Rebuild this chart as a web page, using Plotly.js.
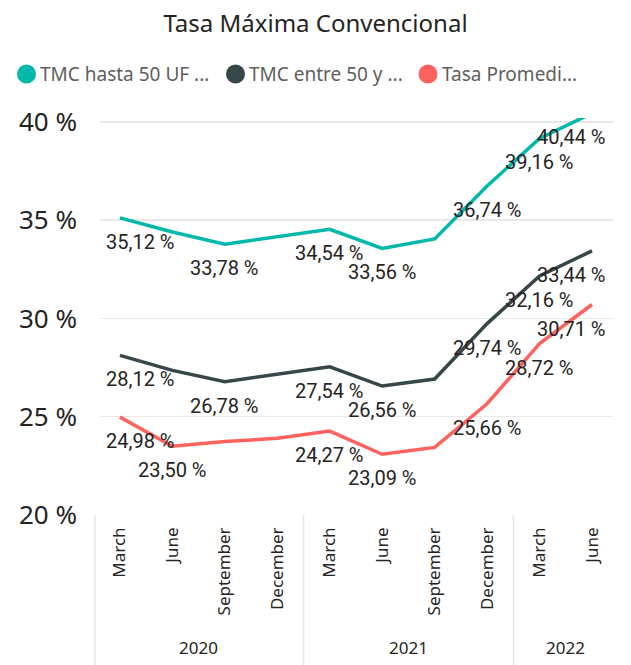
<!DOCTYPE html>
<html><head><meta charset="utf-8">
<script src="https://cdn.plot.ly/plotly-3.0.1.min.js"></script>
<style>html,body{margin:0;padding:0;background:#fff}#chart{width:631px;height:665px}</style>
</head><body><div id="chart"></div>
<script>
const years = ['2020','2020','2020','2020','2021','2021','2021','2021','2022','2022'];
const months = ['March','June','September','December','March','June','September','December','March','June'];
const seriesNames = ['TMC hasta 50 UF ...','TMC entre 50 y ...','Tasa Promedi...'];
const tmcHasta50 = [35.12, 34.40, 33.78, 34.15, 34.54, 33.56, 34.05, 36.74, 39.16, 40.44];
const tmcEntre50 = [28.12, 27.36, 26.78, 27.15, 27.54, 26.56, 26.92, 29.74, 32.16, 33.44];
const tasaPromedio = [24.98, 23.50, 23.74, 23.90, 24.27, 23.09, 23.44, 25.66, 28.72, 30.71];
const shownHasta50 = [1,0,1,0,1,1,0,1,1,1];
const shownEntre50 = [1,0,1,0,1,1,0,1,1,1];
const shownPromedio = [1,1,0,0,1,1,0,1,1,1];
const yTicks = [20, 25, 30, 35, 40];

const W = 631, H = 665;
const M = {l: 100, r: 18, t: 118, b: 150};
const PW = W - M.l - M.r, PH = H - M.t - M.b;
const xRange = [-0.38, 9.4], yRange = [20, 40.2];
const px2paperX = px => (px - M.l) / PW;
const px2paperY = py => (H - M.b - py) / PH;
const val2paperY = v => (v - yRange[0]) / (yRange[1] - yRange[0]);

const colors = ['#01B8AA', '#374649', '#FD625E'];
const series = [tmcHasta50, tmcEntre50, tasaPromedio];
const shown = [shownHasta50, shownEntre50, shownPromedio];
const xIdx = months.map((_, i) => i);
const fmt = v => v.toFixed(2).replace('.', ',') + ' %';

const traces = series.map((vals, s) => ({x: xIdx, y: vals, type: 'scatter', mode: 'lines',
  line: {color: colors[s], width: 3.5}, showlegend: false, hoverinfo: 'skip'}));

const annotations = [];
const shapes = [];
const last = months.length - 1;
series.forEach((vals, s) => {
  vals.forEach((v, i) => {
    if (!shown[s][i]) return;
    annotations.push({x: i, y: val2paperY(v), xref: 'x', yref: 'paper', text: fmt(v), showarrow: false,
      xanchor: 'center', yanchor: 'middle', yshift: -24,
      xshift: i === 0 ? 21 : (i === last ? -21 : 0),
      font: {family: 'Roboto, DejaVu Sans Condensed, sans-serif', size: 20, color: '#252423'}});
  });
});

// legend (custom, Power BI style)
const legendCircleX = [26.5, 235.5, 428];
const legendTextX = [38, 247, 440];
const legendY = 74;
seriesNames.forEach((n, s) => {
  shapes.push({type: 'circle', xref: 'paper', yref: 'paper', xsizemode: 'pixel', ysizemode: 'pixel',
    xanchor: px2paperX(legendCircleX[s]), yanchor: px2paperY(legendY), x0: -9.5, x1: 9.5, y0: -9.5, y1: 9.5,
    fillcolor: colors[s], line: {width: 0}});
  annotations.push({x: px2paperX(legendTextX[s]), y: px2paperY(legendY), xref: 'paper', yref: 'paper',
    text: n, showarrow: false, xanchor: 'left', yanchor: 'middle',
    font: {family: 'Noto Sans, sans-serif', size: 19, color: '#605E5C'}});
});

// year groups
const groups = [];
years.forEach((y, i) => {
  const g = groups.length && groups[groups.length - 1].year === y ? groups[groups.length - 1] : null;
  if (g) g.end = i; else groups.push({year: y, start: i, end: i});
});
shapes.push({type: 'line', xref: 'paper', yref: 'paper', x0: px2paperX(95), x1: px2paperX(95), y0: 0, y1: px2paperY(H),
  line: {color: '#E6E6E6', width: 1.5}});
groups.forEach((g, k) => {
  annotations.push({x: (g.start + g.end) / 2, y: px2paperY(647), xref: 'x', yref: 'paper', text: g.year,
    showarrow: false, xanchor: 'center', yanchor: 'middle',
    font: {family: 'Noto Sans, sans-serif', size: 17, color: '#252423'}});
  if (k < groups.length - 1) {
    shapes.push({type: 'line', xref: 'x', yref: 'paper', x0: g.end + 0.5, x1: g.end + 0.5, y0: 0, y1: px2paperY(H),
      line: {color: '#E6E6E6', width: 1.5}});
  }
});

const layout = {
  width: W, height: H, margin: M,
  paper_bgcolor: '#fff', plot_bgcolor: '#fff',
  font: {family: 'Noto Sans, sans-serif', color: '#252423'},
  title: {text: 'Tasa Máxima Convencional', x: 0.5, xanchor: 'center', y: 1 - 24 / H, yanchor: 'middle',
    font: {family: 'Noto Sans, sans-serif', size: 24, color: '#252423'}},
  showlegend: false,
  xaxis: {range: xRange, tickmode: 'array', tickvals: xIdx, ticktext: months, tickangle: -90,
    showgrid: false, zeroline: false, showline: false, ticks: '', ticklabelstandoff: 8,
    tickfont: {family: 'Noto Sans, sans-serif', size: 17, color: '#252423'}},
  yaxis: {range: yRange, tickmode: 'array', tickvals: yTicks, ticktext: yTicks.map(t => t + ' %'),
    showgrid: true, gridcolor: '#E8E8E8', gridwidth: 1.5, zeroline: false, showline: false, ticks: '',
    ticklabelstandoff: 22, tickfont: {family: 'Noto Sans, sans-serif', size: 26, color: '#252423'}},
  annotations: annotations,
  shapes: shapes
};
Plotly.newPlot('chart', traces, layout, {displayModeBar: false, staticPlot: true});
</script></body></html>
